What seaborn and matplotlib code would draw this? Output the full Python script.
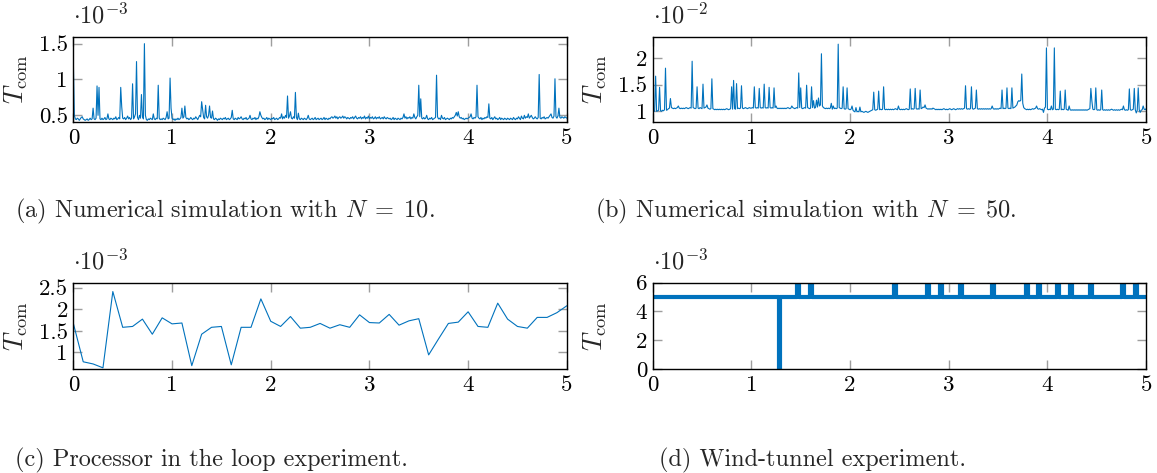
import numpy as np
import matplotlib as mpl
import matplotlib.pyplot as plt
from matplotlib.ticker import FuncFormatter, FixedLocator
import seaborn as sns

# ------------------------------------------------------------------ #
# data (values in units of the axis multiplier)
# ------------------------------------------------------------------ #

# (a) numerical simulation, N = 10, sampled every 0.01 s, x 1e-3
sim10_T = [
    1.24, 0.50, 0.45, 0.44, 0.46, 0.45, 0.43, 0.45, 0.47, 0.48,
    0.45, 0.44, 0.43, 0.44, 0.45, 0.43, 0.44, 0.46, 0.44, 0.45,
    0.60, 0.45, 0.44, 0.46, 0.91, 0.50, 0.89, 0.45, 0.44, 0.46,
    0.44, 0.45, 0.47, 0.44, 0.45, 0.52, 0.45, 0.44, 0.46, 0.45,
    0.44, 0.46, 0.45, 0.48, 0.44, 0.45, 0.47, 0.45, 0.89, 0.62,
    0.46, 0.45, 0.47, 0.44, 0.46, 0.49, 0.45, 0.47, 0.44, 0.46,
    0.94, 0.45, 0.48, 0.52, 1.25, 0.47, 0.44, 0.50, 0.46, 0.79,
    0.48, 0.45, 1.50, 0.50, 0.44, 0.43, 0.45, 0.44, 0.46, 0.45,
    0.44, 0.52, 0.45, 0.44, 0.46, 0.45, 0.92, 0.46, 0.44, 0.45,
    0.44, 0.46, 0.45, 0.44, 0.47, 0.55, 0.45, 0.46, 1.02, 0.60,
    0.46, 0.44, 0.45, 0.43, 0.45, 0.44, 0.46, 0.44, 0.45, 0.47,
    0.60, 0.46, 0.48, 0.63, 0.47, 0.45, 0.46, 0.44, 0.45, 0.47,
    0.45, 0.44, 0.46, 0.45, 0.48, 0.46, 0.44, 0.47, 0.50, 0.48,
    0.69, 0.58, 0.47, 0.45, 0.64, 0.48, 0.46, 0.50, 0.63, 0.47,
    0.46, 0.56, 0.45, 0.44, 0.46, 0.45, 0.43, 0.45, 0.44, 0.46,
    0.45, 0.44, 0.46, 0.45, 0.47, 0.44, 0.45, 0.46, 0.44, 0.45,
    0.47, 0.57, 0.45, 0.44, 0.46, 0.45, 0.44, 0.47, 0.45, 0.46,
    0.48, 0.45, 0.44, 0.46, 0.45, 0.47, 0.44, 0.45, 0.46, 0.50,
    0.45, 0.44, 0.46, 0.45, 0.47, 0.44, 0.46, 0.45, 0.48, 0.55,
    0.50, 0.47, 0.45, 0.46, 0.44, 0.45, 0.47, 0.44, 0.46, 0.45,
    0.44, 0.46, 0.45, 0.47, 0.44, 0.45, 0.46, 0.44, 0.45, 0.47,
    0.46, 0.52, 0.45, 0.48, 0.46, 0.50, 0.47, 0.77, 0.46, 0.49,
    0.55, 0.46, 0.45, 0.48, 0.46, 0.82, 0.47, 0.44, 0.53, 0.45,
    0.44, 0.46, 0.45, 0.44, 0.46, 0.45, 0.44, 0.46, 0.50, 0.45,
    0.44, 0.45, 0.46, 0.44, 0.45, 0.47, 0.44, 0.45, 0.46, 0.44,
    0.45, 0.46, 0.44, 0.45, 0.47, 0.44, 0.46, 0.45, 0.44, 0.46,
    0.45, 0.47, 0.48, 0.46, 0.47, 0.49, 0.46, 0.48, 0.45, 0.47,
    0.48, 0.46, 0.47, 0.49, 0.46, 0.48, 0.47, 0.45, 0.47, 0.46,
    0.45, 0.47, 0.46, 0.48, 0.45, 0.47, 0.49, 0.46, 0.45, 0.47,
    0.46, 0.48, 0.45, 0.47, 0.46, 0.49, 0.45, 0.47, 0.46, 0.49,
    0.45, 0.47, 0.46, 0.48, 0.45, 0.46, 0.48, 0.45, 0.47, 0.46,
    0.48, 0.45, 0.46, 0.47, 0.45, 0.48, 0.46, 0.45, 0.47, 0.46,
    0.45, 0.46, 0.44, 0.45, 0.47, 0.44, 0.46, 0.45, 0.44, 0.46,
    0.45, 0.44, 0.46, 0.45, 0.47, 0.52, 0.46, 0.48, 0.45, 0.47,
    0.46, 0.48, 0.45, 0.47, 0.46, 0.52, 0.47, 0.45, 0.48, 0.50,
    0.92, 0.48, 0.73, 0.46, 0.45, 0.47, 0.45, 0.46, 0.50, 0.45,
    0.44, 0.46, 0.45, 0.47, 0.44, 0.45, 0.46, 0.47, 1.06, 0.48,
    0.45, 0.46, 0.44, 0.50, 0.46, 0.45, 0.47, 0.44, 0.45, 0.46,
    0.45, 0.44, 0.46, 0.45, 0.47, 0.46, 0.48, 0.50, 0.54, 0.49,
    0.55, 0.48, 0.46, 0.47, 0.45, 0.46, 0.44, 0.45, 0.46, 0.45,
    0.46, 0.47, 0.48, 0.52, 0.46, 0.45, 0.47, 0.46, 0.48, 0.92,
    0.48, 0.46, 0.45, 0.47, 0.44, 0.46, 0.45, 0.47, 0.46, 0.48,
    0.47, 0.66, 0.46, 0.45, 0.47, 0.44, 0.46, 0.48, 0.45, 0.46,
    0.44, 0.45, 0.47, 0.44, 0.46, 0.45, 0.44, 0.46, 0.45, 0.44,
    0.46, 0.45, 0.44, 0.46, 0.45, 0.44, 0.47, 0.45, 0.44, 0.46,
    0.45, 0.48, 0.46, 0.44, 0.49, 0.46, 0.45, 0.50, 0.46, 0.48,
    0.47, 0.52, 0.46, 0.48, 0.50, 0.47, 0.45, 0.46, 0.48, 0.46,
    0.45, 0.47, 1.07, 0.46, 0.45, 0.47, 0.46, 0.48, 0.45, 0.46,
    0.47, 0.46, 0.48, 0.50, 0.52, 0.47, 0.46, 0.49, 1.01, 0.48,
    0.46, 0.49, 0.60, 0.47, 0.46, 0.48, 0.47, 0.46, 0.48, 0.47,
    0.46,
]

# (b) numerical simulation, N = 50, sampled every 0.01 s, x 1e-2
sim50_T = [
    1.00, 1.01, 1.00, 1.66, 1.00, 1.01, 1.02, 1.45, 1.01, 1.00,
    1.02, 1.01, 1.03, 1.81, 1.02, 1.03, 1.05, 1.06, 1.24, 1.07,
    1.06, 1.05, 1.06, 1.05, 1.06, 1.07, 1.10, 1.06, 1.05, 1.06,
    1.05, 1.06, 1.05, 1.06, 1.07, 1.06, 1.05, 1.06, 1.07, 1.06,
    1.94, 1.07, 1.06, 1.05, 1.06, 1.46, 1.06, 1.05, 1.07, 1.06,
    1.05, 1.51, 1.06, 1.07, 1.08, 1.12, 1.06, 1.05, 1.04, 1.05,
    1.61, 1.05, 1.04, 1.03, 1.04, 1.03, 1.04, 1.03, 1.04, 1.03,
    1.04, 1.03, 1.04, 1.03, 1.04, 1.05, 1.04, 1.03, 1.04, 1.05,
    1.46, 1.04, 1.58, 1.05, 1.04, 1.52, 1.05, 1.06, 1.05, 1.06,
    1.48, 1.06, 1.05, 1.06, 1.07, 1.06, 1.05, 1.06, 1.07, 1.06,
    1.06, 1.07, 1.06, 1.46, 1.07, 1.06, 1.07, 1.06, 1.43, 1.07,
    1.06, 1.07, 1.06, 1.51, 1.07, 1.06, 1.07, 1.06, 1.45, 1.07,
    1.06, 1.07, 1.06, 1.44, 1.07, 1.10, 1.06, 1.05, 1.06, 1.05,
    1.06, 1.05, 1.06, 1.05, 1.06, 1.05, 1.06, 1.07, 1.06, 1.05,
    1.06, 1.10, 1.07, 1.06, 1.05, 1.06, 1.07, 1.06, 1.72, 1.07,
    1.44, 1.06, 1.05, 1.06, 1.07, 1.06, 1.49, 1.07, 1.06, 1.05,
    1.06, 1.46, 1.07, 1.20, 1.06, 1.07, 1.21, 1.08, 1.25, 1.10,
    1.12, 2.08, 1.10, 1.07, 1.06, 1.05, 1.06, 1.05, 1.06, 1.05,
    1.06, 1.15, 1.04, 1.10, 1.05, 1.06, 1.05, 1.06, 2.26, 1.07,
    1.06, 1.05, 1.06, 1.46, 1.05, 1.04, 1.05, 1.44, 1.05, 1.04,
    1.03, 1.04, 1.10, 1.02, 1.00, 0.99, 1.07, 0.99, 1.00, 0.99,
    1.08, 0.99, 1.00, 0.99, 0.98, 0.99, 1.00, 0.99, 0.98, 0.99,
    1.00, 1.01, 1.02, 1.03, 1.36, 1.03, 1.02, 1.03, 1.04, 1.38,
    1.03, 1.04, 1.03, 1.04, 1.46, 1.04, 1.03, 1.04, 1.03, 1.04,
    1.03, 1.04, 1.03, 1.04, 1.03, 1.04, 1.05, 1.04, 1.03, 1.10,
    1.04, 1.03, 1.04, 1.03, 1.04, 1.03, 1.04, 1.05, 1.04, 1.03,
    1.04, 1.42, 1.04, 1.05, 1.04, 1.05, 1.43, 1.05, 1.04, 1.05,
    1.04, 1.40, 1.05, 1.06, 1.08, 1.07, 1.12, 1.06, 1.05, 1.04,
    1.05, 1.04, 1.05, 1.04, 1.06, 1.05, 1.04, 1.03, 1.04, 1.03,
    1.04, 1.03, 1.04, 1.03, 1.04, 1.05, 1.04, 1.03, 1.04, 1.03,
    1.04, 1.05, 1.04, 1.03, 1.04, 1.05, 1.04, 1.03, 1.04, 1.05,
    1.04, 1.05, 1.04, 1.05, 1.04, 1.05, 1.06, 1.48, 1.05, 1.04,
    1.05, 1.04, 1.05, 1.46, 1.05, 1.04, 1.05, 1.06, 1.40, 1.05,
    1.04, 1.05, 1.04, 1.05, 1.04, 1.05, 1.04, 1.05, 1.04, 1.05,
    1.04, 1.05, 1.04, 1.05, 1.10, 1.05, 1.04, 1.05, 1.04, 1.05,
    1.04, 1.05, 1.06, 1.05, 1.40, 1.05, 1.06, 1.05, 1.06, 1.44,
    1.06, 1.05, 1.06, 1.05, 1.44, 1.06, 1.07, 1.08, 1.10, 1.12,
    1.18, 1.20, 1.19, 1.21, 1.70, 1.15, 1.07, 1.05, 1.04, 1.03,
    1.04, 1.03, 1.04, 1.03, 1.04, 1.05, 1.04, 1.05, 1.06, 1.10,
    1.05, 1.04, 1.05, 1.04, 1.03, 1.04, 0.98, 1.06, 1.08, 2.19,
    1.04, 1.03, 1.04, 1.03, 1.10, 1.03, 1.04, 2.19, 1.04, 1.03,
    1.04, 1.03, 1.04, 1.38, 1.03, 1.04, 1.03, 1.04, 1.40, 1.04,
    1.03, 1.02, 1.10, 1.03, 1.02, 1.03, 1.02, 1.03, 1.02, 1.03,
    1.02, 1.03, 1.02, 1.03, 1.02, 1.03, 1.02, 1.03, 1.02, 1.03,
    1.02, 1.03, 1.04, 1.05, 1.43, 1.20, 1.04, 1.03, 1.04, 1.44,
    1.03, 1.02, 1.03, 1.02, 1.03, 1.40, 1.03, 1.02, 1.03, 1.02,
    1.03, 1.02, 1.03, 1.02, 1.03, 1.04, 1.03, 1.02, 1.03, 1.02,
    1.03, 1.02, 1.03, 1.02, 1.03, 1.04, 1.03, 1.10, 1.03, 1.02,
    1.03, 1.02, 1.03, 1.42, 1.03, 1.02, 1.03, 1.04, 1.43, 1.03,
    0.97, 1.02, 1.44, 1.03, 0.98, 1.02, 1.03, 1.10, 1.04, 1.03,
    1.05,
]
sim_time = np.round(np.arange(len(sim10_T)) * 0.01, 2)

# (c) processor in the loop, one sample every 0.1 s, x 1e-3
pil_time = np.round(np.arange(51) * 0.1, 1)
pil_T = [
    1.67, 0.78, 0.73, 0.64, 2.41, 1.58, 1.60, 1.77, 1.42, 1.80,
    1.66, 1.68, 0.69, 1.42, 1.58, 1.60, 0.71, 1.58, 1.58, 2.24,
    1.72, 1.60, 1.83, 1.56, 1.58, 1.67, 1.56, 1.64, 1.58, 1.87,
    1.69, 1.68, 1.88, 1.63, 1.73, 1.78, 0.94, 1.31, 1.67, 1.70,
    1.94, 1.60, 1.58, 2.14, 1.77, 1.60, 1.56, 1.81, 1.81, 1.92,
    2.08,
]

# (d) wind tunnel, breakpoints of the step signal, x 1e-3
wt_time = [
    0.00,
    1.28, 1.28, 1.29, 1.29,
    1.46, 1.46, 1.48, 1.48,
    1.59, 1.59, 1.61, 1.61,
    2.45, 2.45, 2.47, 2.47,
    2.78, 2.78, 2.80, 2.80,
    2.91, 2.91, 2.93, 2.93,
    3.11, 3.11, 3.13, 3.13,
    3.44, 3.44, 3.46, 3.46,
    3.78, 3.78, 3.80, 3.80,
    3.90, 3.90, 3.92, 3.92,
    4.10, 4.10, 4.12, 4.12,
    4.23, 4.23, 4.25, 4.25,
    4.43, 4.43, 4.45, 4.45,
    4.76, 4.76, 4.78, 4.78,
    4.89, 4.89, 4.91, 4.91,
    5.00,
]
wt_T = [
    5,
    5, 0, 0, 5,
    5, 6, 6, 5,
    5, 6, 6, 5,
    5, 6, 6, 5,
    5, 6, 6, 5,
    5, 6, 6, 5,
    5, 6, 6, 5,
    5, 6, 6, 5,
    5, 6, 6, 5,
    5, 6, 6, 5,
    5, 6, 6, 5,
    5, 6, 6, 5,
    5, 6, 6, 5,
    5, 6, 6, 5,
    5, 6, 6, 5,
    5,
]

captions = [
    r"(a) Numerical simulation with $N\;=\;10$.",
    r"(b) Numerical simulation with $N\;=\;50$.",
    "(c) Processor in the loop experiment.",
    "(d) Wind-tunnel experiment.",
]

# ------------------------------------------------------------------ #
# style
# ------------------------------------------------------------------ #
sns.set_theme(style="white")
mpl.rcParams["font.family"] = "serif"
mpl.rcParams["font.serif"] = ["cmr10"]
mpl.rcParams["mathtext.fontset"] = "cm"
mpl.rcParams["axes.unicode_minus"] = False
mpl.rcParams["axes.formatter.use_mathtext"] = True

blue = "#0072BD"

fig = plt.figure(figsize=(11.57, 4.73), dpi=100)

ax_a = fig.add_axes([0.0634, 0.7421, 0.4265, 0.1803])
ax_b = fig.add_axes([0.5641, 0.7421, 0.4265, 0.1803])
ax_c = fig.add_axes([0.0634, 0.2199, 0.4265, 0.1825])
ax_d = fig.add_axes([0.5641, 0.2199, 0.4265, 0.1825])

sns.lineplot(x=sim_time, y=sim10_T, ax=ax_a, color=blue, lw=0.8,
             estimator=None, sort=False)
sns.lineplot(x=sim_time, y=sim50_T, ax=ax_b, color=blue, lw=0.8,
             estimator=None, sort=False)
sns.lineplot(x=pil_time, y=pil_T, ax=ax_c, color=blue, lw=0.8,
             estimator=None, sort=False)
sns.lineplot(x=wt_time, y=wt_T, ax=ax_d, color=blue, lw=3.0,
             estimator=None, sort=False)

setup = [
    (ax_a, (0.407, 1.597), [0.5, 1, 1.5], -3),
    (ax_b, (0.80, 2.40), [1, 1.5, 2], -2),
    (ax_c, (0.613, 2.616), [1, 1.5, 2, 2.5], -3),
    (ax_d, (0, 6), [0, 2, 4, 6], -3),
]

fmt = FuncFormatter(lambda v, p: "%g" % v)

for ax, ylim, yt, expo in setup:
    ax.set_xlim(0, 5)
    ax.set_ylim(*ylim)
    ax.xaxis.set_major_locator(FixedLocator([0, 1, 2, 3, 4, 5]))
    ax.yaxis.set_major_locator(FixedLocator(yt))
    ax.xaxis.set_major_formatter(fmt)
    ax.yaxis.set_major_formatter(fmt)
    ax.tick_params(direction="in", length=6.5, width=1.0, color="0.62",
                   top=True, right=True, bottom=True, left=True,
                   labelsize=16.5, labelcolor="black")
    ax.tick_params(axis="x", pad=5)
    ax.tick_params(axis="y", pad=4)
    for sp in ax.spines.values():
        sp.set_color("black")
        sp.set_linewidth(1.0)
    ax.set_xlabel("")
    ax.set_ylabel(r"$T_{\mathrm{com}}$", fontsize=19)
    ax.yaxis.set_label_coords(-0.088, 0.5)
    ax.text(0.0, 1.10, r"$\cdot 10^{%d}$" % expo, transform=ax.transAxes,
            ha="left", va="bottom", fontsize=17.5)

fig.text(0.013, 0.552, captions[0], ha="left", va="center", fontsize=17.5)
fig.text(0.514, 0.552, captions[1], ha="left", va="center", fontsize=17.5)
fig.text(0.013, 0.027, captions[2], ha="left", va="center", fontsize=17.5)
fig.text(0.570, 0.027, captions[3], ha="left", va="center", fontsize=17.5)

fig.savefig("out.png", dpi=100)
